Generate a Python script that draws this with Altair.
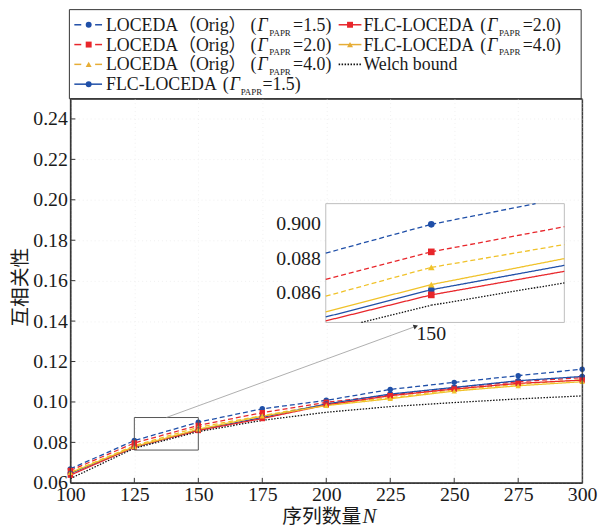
import altair as alt
import pandas as pd

# ---------------- data ----------------
N = [100, 125, 150, 175, 200, 225, 250, 275, 300]
loc15 = [0.0669, 0.0809, 0.0900, 0.0966, 0.1008, 0.1062, 0.1097, 0.1130, 0.1162]
loc20 = [0.0661, 0.0797, 0.0884, 0.0947, 0.0998, 0.1034, 0.1070, 0.1100, 0.1120]
loc40 = [0.0652, 0.0784, 0.0875, 0.0932, 0.0989, 0.1021, 0.1061, 0.1087, 0.1110]
flc15 = [0.0646, 0.0776, 0.0862, 0.0923, 0.0990, 0.1039, 0.1072, 0.1105, 0.1126]
flc20 = [0.0638, 0.0777, 0.0859, 0.0918, 0.0985, 0.1031, 0.1064, 0.1092, 0.1108]
flc40 = [0.0650, 0.0779, 0.0865, 0.0930, 0.0982, 0.1016, 0.1054, 0.1080, 0.1100]
welch = [0.0621, 0.0771, 0.0853, 0.0909, 0.0949, 0.0977, 0.0997, 0.1015, 0.1030]

x_ticks = [100, 125, 150, 175, 200, 225, 250, 275, 300]
y_ticks = [0.06, 0.08, 0.10, 0.12, 0.14, 0.16, 0.18, 0.20, 0.22, 0.24]
inset_x_ticks = [150]
inset_x_labels = ["150"]
inset_y_ticks = [0.086, 0.088, 0.090]
inset_y_labels = ["0.086", "0.088", "0.900"]   # as printed in the reference

y_title = "互相关性"
x_title = "序列数量"
x_title_var = "N"
leg_orig = "LOCEDA（Orig）"
leg_flc = "FLC-LOCEDA"
leg_welch = "Welch bound"
leg_vals = ["=1.5)", "=2.0)", "=4.0)"]

# zoom window (main coords) and inset domain
zoom_x = [125, 150]
zoom_y = [0.0762, 0.0923]
inset_xd = [145.4, 155.8]
inset_yd = [0.0843, 0.0912]
conn = [137.5, 0.0923, 235.0, 0.1374]

# ---------------- styles ----------------
SERIF = "Liberation Serif, Times New Roman, serif"
MIXED = "Liberation Serif, Noto Sans CJK SC, serif"
CJK = "Noto Sans CJK SC"
BLUE, RED, YEL, BLK = "#1f4fa8", "#e8262b", "#f0c22a", "#111111"

SERIES = ["loc15", "loc20", "loc40", "flc15", "flc20", "flc40", "welch"]
VALUES = dict(zip(SERIES, [loc15, loc20, loc40, flc15, flc20, flc40, welch]))
COLORS = [BLUE, RED, YEL, BLUE, RED, YEL, BLK]
DASHES = [[5, 3]] * 3 + [[1, 0]] * 3 + [[1.5, 1.5]]
WIDTHS = [1.3] * 6 + [1.9]
MSERIES = SERIES[:6]
SHAPES = ["circle", "square", "triangle-up"] * 2

df = pd.DataFrame([{"series": s, "N": n, "v": v}
                   for s in SERIES for n, v in zip(N, VALUES[s])])
dfm = df[df.series != "welch"]

color_enc = alt.Color("series:N", scale=alt.Scale(domain=SERIES, range=COLORS), legend=None)
dash_enc = alt.StrokeDash("series:N", scale=alt.Scale(domain=SERIES, range=DASHES), legend=None)
width_enc = alt.StrokeWidth("series:N", scale=alt.Scale(domain=SERIES, range=WIDTHS), legend=None)
shape_enc = alt.Shape("series:N", scale=alt.Scale(domain=MSERIES, range=SHAPES), legend=None)

xs = alt.Scale(domain=[100, 300], nice=False, zero=False)
ys = alt.Scale(domain=[0.06, 0.25], nice=False, zero=False)

xaxis = alt.Axis(values=x_ticks, format="d", labelFont=SERIF, labelFontSize=20,
                 labelColor="#1a1a1a", labelPadding=2, labelFlush=False, ticks=False,
                 domainColor="#333", grid=True, gridColor="#f0f0f0", gridDash=[1, 3],
                 title="")
yaxis = alt.Axis(values=y_ticks, format=".2f", labelFont=SERIF, labelFontSize=20,
                 labelColor="#1a1a1a", labelPadding=3, labelFlush=False, ticks=False,
                 domainColor="#333", grid=True, gridColor="#f0f0f0", gridDash=[1, 3],
                 title=y_title, titleFont=CJK, titleFontSize=20, titleFontWeight="normal",
                 titleColor="#1a1a1a", titleX=-50, titleY=190, titleBaseline="middle",
                 titleAlign="center")

lines = alt.Chart(df).mark_line().encode(
    x=alt.X("N:Q", scale=xs, axis=xaxis),
    y=alt.Y("v:Q", scale=ys, axis=yaxis),
    color=color_enc, strokeDash=dash_enc, strokeWidth=width_enc,
    detail="series:N", order="N:Q")

points = alt.Chart(dfm).mark_point(filled=True, size=30, opacity=1).encode(
    x=alt.X("N:Q", scale=xs), y=alt.Y("v:Q", scale=ys),
    color=color_enc, shape=shape_enc)

ytk = alt.Chart(pd.DataFrame({"t": y_ticks[1:]})).mark_rule(color="#333").encode(
    y=alt.Y("t:Q", scale=ys), x=alt.value(0), x2=alt.value(5))
xtk = alt.Chart(pd.DataFrame({"t": x_ticks[1:-1]})).mark_rule(color="#333").encode(
    x=alt.X("t:Q", scale=xs), y=alt.value(388), y2=alt.value(383))

zoom_rect = alt.Chart(pd.DataFrame({"x0": [zoom_x[0]], "x1": [zoom_x[1]],
                                    "y0": [zoom_y[0]], "y1": [zoom_y[1]]})).mark_rect(
    fill="transparent", stroke="#555", strokeWidth=1).encode(
    x=alt.X("x0:Q", scale=xs), x2="x1:Q", y=alt.Y("y0:Q", scale=ys), y2="y1:Q")

conn_df = pd.DataFrame({"x0": [conn[0]], "y0": [conn[1]], "x1": [conn[2]], "y1": [conn[3]]})
conn_line = alt.Chart(conn_df).mark_rule(color="#9a9a9a", strokeWidth=0.8).encode(
    x=alt.X("x0:Q", scale=xs), x2="x1:Q", y=alt.Y("y0:Q", scale=ys), y2="y1:Q")
arrow = alt.Chart(conn_df).mark_point(shape="triangle-right", angle=340, filled=True,
                                      size=28, color="#333", opacity=1).encode(
    x=alt.X("x1:Q", scale=xs), y=alt.Y("y1:Q", scale=ys))

main = alt.layer(lines, points, ytk, xtk, zoom_rect, conn_line, arrow)


# ---------------- inset (clipped copy of the same data) ----------------
def clip_seg(x0, y0, x1, y1, xmin, xmax, ymin, ymax):
    dx, dy = x1 - x0, y1 - y0
    u0, u1 = 0.0, 1.0
    for p, q in ((-dx, x0 - xmin), (dx, xmax - x0), (-dy, y0 - ymin), (dy, ymax - y0)):
        if p == 0:
            if q < 0:
                return None
        else:
            t = q / p
            if p < 0:
                u0 = max(u0, t)
            else:
                u1 = min(u1, t)
    if u0 > u1:
        return None
    return (x0 + u0 * dx, y0 + u0 * dy, x0 + u1 * dx, y0 + u1 * dy)


irows = []
for s in SERIES:
    vals = VALUES[s]
    for i in range(len(N) - 1):
        c = clip_seg(N[i], vals[i], N[i + 1], vals[i + 1],
                     inset_xd[0], inset_xd[1], inset_yd[0], inset_yd[1])
        if c:
            piece = f"{s}-{i}"
            irows.append({"series": s, "piece": piece, "N": c[0], "v": c[1], "o": 0})
            irows.append({"series": s, "piece": piece, "N": c[2], "v": c[3], "o": 1})
idf = pd.DataFrame(irows)
ipts = dfm[(dfm.N >= inset_xd[0]) & (dfm.N <= inset_xd[1]) &
           (dfm.v >= inset_yd[0]) & (dfm.v <= inset_yd[1])].reset_index(drop=True)

ixs = alt.Scale(domain=inset_xd, range=[258, 499], nice=False, zero=False)
iys = alt.Scale(domain=inset_yd, range=[226, 106], nice=False, zero=False)

box = alt.Chart(pd.DataFrame({"x0": [inset_xd[0]], "x1": [inset_xd[1]],
                              "y0": [inset_yd[0]], "y1": [inset_yd[1]]})).mark_rect(
    fill="white", stroke="#bdbdbd", strokeWidth=1).encode(
    x=alt.X("x0:Q", scale=ixs, axis=None), x2="x1:Q",
    y=alt.Y("y0:Q", scale=iys, axis=None), y2="y1:Q")

ilines = alt.Chart(idf).mark_line().encode(
    x=alt.X("N:Q", scale=ixs, axis=None), y=alt.Y("v:Q", scale=iys, axis=None),
    color=color_enc, strokeDash=dash_enc, strokeWidth=width_enc,
    detail="piece:N", order="o:Q")
ipoints = alt.Chart(ipts).mark_point(filled=True, size=45, opacity=1).encode(
    x=alt.X("N:Q", scale=ixs, axis=None), y=alt.Y("v:Q", scale=iys, axis=None),
    color=color_enc, shape=shape_enc)

iylab = alt.Chart(pd.DataFrame({"t": inset_y_ticks, "lab": inset_y_labels})).mark_text(
    align="right", baseline="middle", font=SERIF, fontSize=20, color="#1a1a1a").encode(
    y=alt.Y("t:Q", scale=iys, axis=None), x=alt.value(253), text="lab:N")
ixlab = alt.Chart(pd.DataFrame({"t": inset_x_ticks, "lab": inset_x_labels})).mark_text(
    align="center", baseline="top", font=SERIF, fontSize=20, color="#1a1a1a").encode(
    x=alt.X("t:Q", scale=ixs, axis=None), y=alt.value(228), text="lab:N")

inset = alt.layer(box, ilines, ipoints, iylab, ixlab)

# ---------------- legend, frame & x title (pixel layout) ----------------
OX, OY = 71, 97  # plot origin on the page
rb = [28.3, 48.3, 68.3, 88.3]  # baselines of the legend rows (page)

ntext = []
gam = []
sub = []
for r, val in zip(rb[:3], leg_vals):
    ntext += [(107, r, leg_orig), (253, r, "("), (296, r, val)]
    gam.append((260, r))
    sub.append((272, r + 5))
ntext += [(107, rb[3], leg_flc), (225, rb[3], "("), (265, rb[3], leg_vals[0])]
gam.append((232, rb[3]))
sub.append((243, rb[3] + 5))
for r, val in zip(rb[:2], leg_vals[1:]):
    ntext += [(367, r, leg_flc), (485, r, "("), (528, r, val)]
    gam.append((492, r))
    sub.append((504, r + 5))
ntext.append((367, rb[2], leg_welch))

tdf = pd.DataFrame([{"x": x - OX, "y": y - OY, "t": t} for x, y, t in ntext])
gdf = pd.DataFrame([{"x": x - OX, "y": y - OY, "t": "Γ"} for x, y in gam])
sdf = pd.DataFrame([{"x": x - OX, "y": y - OY, "t": "PAPR"} for x, y in sub])


def txt(d, **kw):
    return alt.Chart(d).mark_text(align="left", baseline="alphabetic", color="#1a1a1a", **kw).encode(
        x=alt.X("x:Q", scale=None), y=alt.Y("y:Q", scale=None), text="t:N")


t_norm = txt(tdf, font=MIXED, fontSize=18)
t_gam = txt(gdf, font=SERIF, fontSize=18, fontStyle="italic")
t_sub = txt(sdf, font=SERIF, fontSize=9)

# legend symbols: (x0, x1, row, color) segments and markers
rc = [r - 6 for r in rb]
segs = []
marks = []
for i, (col, shp) in enumerate(zip([BLUE, RED, "#e6ad35"], ["circle", "square", "triangle-up"])):
    segs += [(75, 82, rc[i], col), (96, 103, rc[i], col)]
    marks.append((89.5, rc[i], col, shp))
segs.append((75, 103, rc[3], BLUE))
marks.append((89.5, rc[3], BLUE, "circle"))
segs.append((342, 365, rc[0], RED))
marks.append((353.5, rc[0], RED, "square"))
segs.append((342, 365, rc[1], "#e6ad35"))
marks.append((353.5, rc[1], "#e6ad35", "triangle-up"))

segdf = pd.DataFrame([{"x0": a - OX, "x1": b - OX, "y": y - OY, "c": c} for a, b, y, c in segs])
mkdf = pd.DataFrame([{"x": x - OX, "y": y - OY, "c": c, "s": s} for x, y, c, s in marks])

l_segs = alt.Chart(segdf).mark_rule(strokeWidth=1.5).encode(
    x=alt.X("x0:Q", scale=None), x2="x1:Q", y=alt.Y("y:Q", scale=None),
    color=alt.Color("c:N", scale=None))
l_marks = alt.Chart(mkdf).mark_point(filled=True, size=36, opacity=1).encode(
    x=alt.X("x:Q", scale=None), y=alt.Y("y:Q", scale=None),
    color=alt.Color("c:N", scale=None), shape=alt.Shape("s:N", scale=None))
l_welch = alt.Chart(pd.DataFrame({"x0": [342 - OX], "x1": [365 - OX], "y": [rc[2] - OY]})).mark_rule(
    strokeWidth=2, color=BLK, strokeDash=[1.5, 1.5]).encode(
    x=alt.X("x0:Q", scale=None), x2="x1:Q", y=alt.Y("y:Q", scale=None))
l_box = alt.Chart(pd.DataFrame({"x0": [70 - OX], "x1": [587 - OX], "y0": [7 - OY], "y1": [0]})).mark_rect(
    fill="transparent", stroke="#333", strokeWidth=1).encode(
    x=alt.X("x0:Q", scale=None), x2="x1:Q", y=alt.Y("y0:Q", scale=None), y2="y1:Q")
frame = alt.Chart(pd.DataFrame({"x0": [0], "x1": [517], "y0": [0], "y1": [388]})).mark_rect(
    fill="transparent", stroke="#333", strokeWidth=1).encode(
    x=alt.X("x0:Q", scale=None), x2="x1:Q", y=alt.Y("y0:Q", scale=None), y2="y1:Q")

xt_df = pd.DataFrame({"x": [365 - OX], "y": [520 - OY]})
xt1 = alt.Chart(xt_df).mark_text(align="right", baseline="middle", font=CJK, fontSize=20,
                                 color="#1a1a1a", text=x_title).encode(
    x=alt.X("x:Q", scale=None), y=alt.Y("y:Q", scale=None))
xt2 = alt.Chart(xt_df).mark_text(align="left", baseline="middle", font=SERIF, fontSize=21,
                                 fontStyle="italic", color="#1a1a1a", text=x_title_var, dx=1).encode(
    x=alt.X("x:Q", scale=None), y=alt.Y("y:Q", scale=None))

legend = alt.layer(frame, l_box, l_segs, l_welch, l_marks, t_norm, t_gam, t_sub, xt1, xt2)

chart = alt.layer(main, inset, legend).resolve_scale(
    x="independent", y="independent", color="independent", shape="independent",
    strokeDash="independent", strokeWidth="independent"
).properties(
    width=517, height=388,
    autosize=alt.AutoSizeParams(type="none"),
    padding={"left": 63, "top": 89, "right": 16, "bottom": 43},
    background="white",
).configure_view(stroke="#333", strokeWidth=1)

chart.save("out.html", embed_options={"renderer": "svg", "actions": False})
